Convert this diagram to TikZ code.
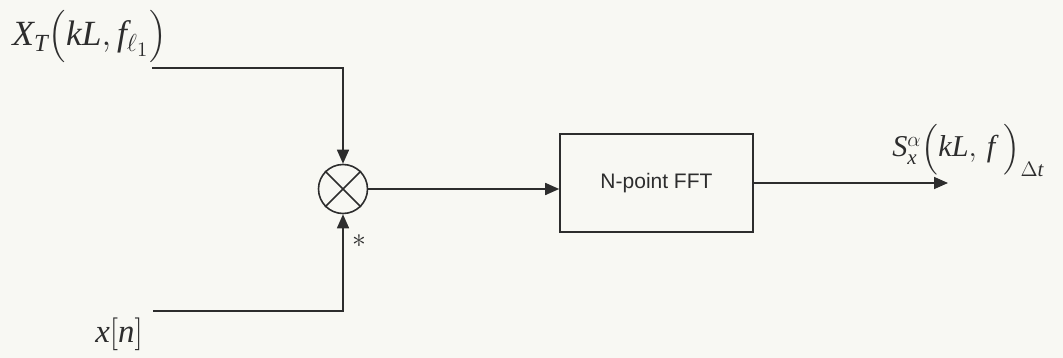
\documentclass[tikz,border=0pt]{standalone}
\usepackage{exscale}
\usepackage{graphicx}
\usepackage{fontspec}
\newfontfamily\arialfont{Liberation Sans}
\newfontfamily\tms[NFSSFamily=tmsfam]{Liberation Serif}
% Times-style italic letters for the signal names
\DeclareSymbolFont{tmsit}{TU}{tmsfam}{m}{it}
\DeclareMathSymbol{X}{\mathalpha}{tmsit}{`X}
\DeclareMathSymbol{T}{\mathalpha}{tmsit}{`T}
\DeclareMathSymbol{k}{\mathalpha}{tmsit}{`k}
\DeclareMathSymbol{L}{\mathalpha}{tmsit}{`L}
\DeclareMathSymbol{f}{\mathalpha}{tmsit}{`f}
\DeclareMathSymbol{x}{\mathalpha}{tmsit}{`x}
\DeclareMathSymbol{n}{\mathalpha}{tmsit}{`n}
\DeclareMathSymbol{S}{\mathalpha}{tmsit}{`S}
\DeclareMathSymbol{t}{\mathalpha}{tmsit}{`t}
% tall parentheses: #1 = scale, #2 = raise
\newcommand\lpar[2]{\mathopen{\raisebox{#2}{\scalebox{#1}{$\Bigl($}}}}
\newcommand\rpar[2]{\mathclose{\raisebox{#2}{\scalebox{#1}{$\Bigr)$}}}}
\usetikzlibrary{arrows.meta}
\definecolor{paper}{RGB}{248,248,243}
\definecolor{ink}{RGB}{45,45,45}
\begin{document}
\begin{tikzpicture}[x=1pt,y=-1pt,
  wire/.style={draw=ink,line width=1.6pt},
  arr/.style={wire,-{Triangle[length=14pt,width=12pt]}},
  mathlabel/.style={inner sep=0pt,anchor=base west,text=ink,
    font=\fontsize{17.28}{20}\selectfont,transform shape},
  blockbox/.style={draw=ink,line width=1.6pt,minimum width=193pt,minimum height=98pt,inner sep=0pt,
    font=\arialfont\fontsize{21}{24}\selectfont,text=ink},
  mixer/.style={draw=ink,line width=1.6pt,circle,minimum size=49pt,inner sep=0pt}]
  % page
  \fill[paper] (0,0) rectangle (1063,358);
  \useasboundingbox (0,0) rectangle (1063,358);

  % signal labels
  \node[mathlabel,scale=2.05] (xt) at (12,46)
    {$X_T\lpar{0.82}{1.2pt}kL,f_{\ell_1}\rpar{0.82}{1.2pt}$};
  \node[mathlabel,scale=1.9] (xn) at (95,342) {$x[n]$};
  \node[mathlabel,scale=1.75] (sx) at (892,157)
    {$S_x^{\alpha}\lpar{0.93}{0pt}kL,\,f\;\rpar{0.93}{0pt}_{\Delta t}$};

  % multiplier and FFT block
  \node[mixer] (mul) at (343,189) {};
  \draw[wire] (mul.north west) -- (mul.south east) (mul.north east) -- (mul.south west);
  \node[blockbox] (fft) at (656.5,183) {N-point FFT};
  \node[mathlabel,anchor=center,scale=1.6] (conj) at (359,241) {$*$};

  % wiring
  \coordinate (a1) at (152,68);
  \coordinate (b1) at (153,311);
  \coordinate (out) at (948,183);
  \draw[arr] (a1) -| (mul.north);
  \draw[arr] (b1) -| (mul.south);
  \draw[arr] (mul.east) -- (mul.east -| fft.west);
  \draw[arr] (fft.east) -- (out);
\end{tikzpicture}
\end{document}
